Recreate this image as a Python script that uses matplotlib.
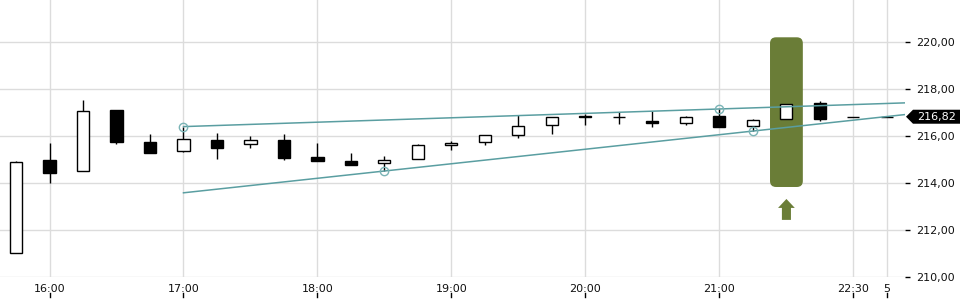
import matplotlib.pyplot as plt
import matplotlib.transforms as mtransforms
from matplotlib.patches import FancyBboxPatch, FancyArrow, Polygon
from matplotlib.ticker import FuncFormatter

# 15-minute candles, index based x axis
opens = [211.02, 214.98, 214.50, 217.11, 215.74, 215.37, 215.83, 215.65, 215.83, 215.11,
         214.94, 214.84, 215.01, 215.60, 215.73, 216.03, 216.46, 216.85, 216.80, 216.63,
         216.54, 216.85, 216.41, 216.71, 217.40, 216.80, 216.81]
highs = [214.93, 215.71, 217.53, 217.11, 216.09, 216.40, 216.11, 216.00, 216.09, 215.70,
         215.28, 215.15, 215.66, 215.79, 216.03, 216.89, 216.80, 216.94, 217.02, 217.06,
         216.85, 217.15, 216.72, 217.35, 217.50, 216.80, 216.81]
lows = [211.02, 214.01, 214.50, 215.66, 215.29, 215.33, 215.03, 215.50, 214.99, 214.95,
        214.78, 214.51, 215.01, 215.40, 215.63, 215.93, 216.10, 216.48, 216.50, 216.40,
        216.48, 216.40, 216.20, 216.71, 216.63, 216.80, 216.81]
closes = [214.89, 214.44, 217.05, 215.74, 215.29, 215.86, 215.50, 215.82, 215.08, 214.95,
          214.78, 214.97, 215.62, 215.70, 216.03, 216.41, 216.80, 216.80, 216.80, 216.54,
          216.80, 216.40, 216.68, 217.35, 216.74, 216.80, 216.81]

tick_pos = [1, 5, 9, 13, 17, 21, 25, 26]
tick_labels = ["16:00", "17:00", "18:00", "19:00", "20:00", "21:00", "22:30", "5"]
price_ticks = [210, 212, 214, 216, 218, 220]

# trend lines: anchor points (index, price)
upper_pts = [(5, 216.40), (21, 217.15)]
lower_pts = [(11, 214.51), (22, 216.21)]
lower_start = 5

signal_idx = 23
last_price = 216.82

green = "#6a7d37"
teal = "#5a9ea1"

fig = plt.figure(figsize=(9.6, 3), dpi=100)
ax = fig.add_axes([0, 23 / 300, 905 / 960, 277 / 300])
x0, x1 = -0.478, 26.54
ax.set_xlim(x0, x1)
ax.set_ylim(210, 221.787)

for s in ax.spines.values():
    s.set_visible(False)
ax.grid(True, color="#dcdcdc", linewidth=1)
ax.set_axisbelow(True)

# signal highlight
hl = FancyBboxPatch((signal_idx - 0.49, 213.83), 0.98, 220.2 - 213.83,
                    boxstyle="round,pad=0,rounding_size=0.18", mutation_aspect=1.42,
                    facecolor=green, edgecolor="none", zorder=1)
ax.add_patch(hl)
arr = FancyArrow(signal_idx, 212.43, 0, 0.89, width=0.27, head_width=0.5,
                 head_length=0.38, length_includes_head=True,
                 facecolor=green, edgecolor="none", clip_on=False)
ax.add_patch(arr)

# candles
idx = list(range(len(opens)))
ax.vlines(idx, lows, highs, color="black", linewidth=1, zorder=3)
bottoms = [min(o, c) for o, c in zip(opens, closes)]
heights = [abs(c - o) for o, c in zip(opens, closes)]
colors = ["black" if c < o else "white" for o, c in zip(opens, closes)]
ax.bar(idx, heights, bottom=bottoms, width=0.36, color=colors,
       edgecolor="black", linewidth=1, zorder=4)

# trend lines
(ua, uy), (ub, vy) = upper_pts
us = (vy - uy) / (ub - ua)
ax.plot([ua, x1], [uy, uy + us * (x1 - ua)], color=teal, linewidth=1.1, zorder=5)
(la, ly), (lb, my) = lower_pts
ls = (my - ly) / (lb - la)
ax.plot([lower_start, x1], [ly + ls * (lower_start - la), ly + ls * (x1 - la)],
        color=teal, linewidth=1.1, zorder=5)
for px, py in upper_pts + lower_pts:
    ax.plot(px, py, "o", markersize=6, markerfacecolor="none",
            markeredgecolor="#7ab4b6", markeredgewidth=1, zorder=6)

# axes ticks
ax.set_xticks(tick_pos)
ax.set_xticklabels(tick_labels)
ax.tick_params(axis="x", length=0, pad=5, labelsize=8, labelcolor="#111111")
ax.yaxis.tick_right()
ax.set_yticks(price_ticks)
ax.yaxis.set_major_formatter(FuncFormatter(lambda v, p: f"{v:.2f}".replace(".", ",")))
ax.tick_params(axis="y", length=3.6, width=1, pad=4.5, labelsize=8,
               color="black", labelcolor="#111111")

trans = mtransforms.blended_transform_factory(ax.transData, ax.transAxes)
for t in tick_pos:
    ax.plot([t, t], [-0.058, -0.072], color="black", linewidth=1,
            transform=trans, clip_on=False)

# last price tag
tr = mtransforms.blended_transform_factory(ax.transAxes, ax.transData)
h = 7 / 23.5
tag = Polygon([(1 + 1 / 905, last_price), (1 + 8 / 905, last_price + h), (1 + 60 / 905, last_price + h),
               (1 + 60 / 905, last_price - h), (1 + 8 / 905, last_price - h)],
              closed=True, transform=tr, facecolor="black", edgecolor="none", clip_on=False)
ax.add_patch(tag)
ax.text(1 + 12 / 905, last_price, f"{last_price:.2f}".replace(".", ","), transform=tr,
        color="white", fontsize=8, va="center", ha="left", clip_on=False)

fig.savefig("out.png", dpi=100)
